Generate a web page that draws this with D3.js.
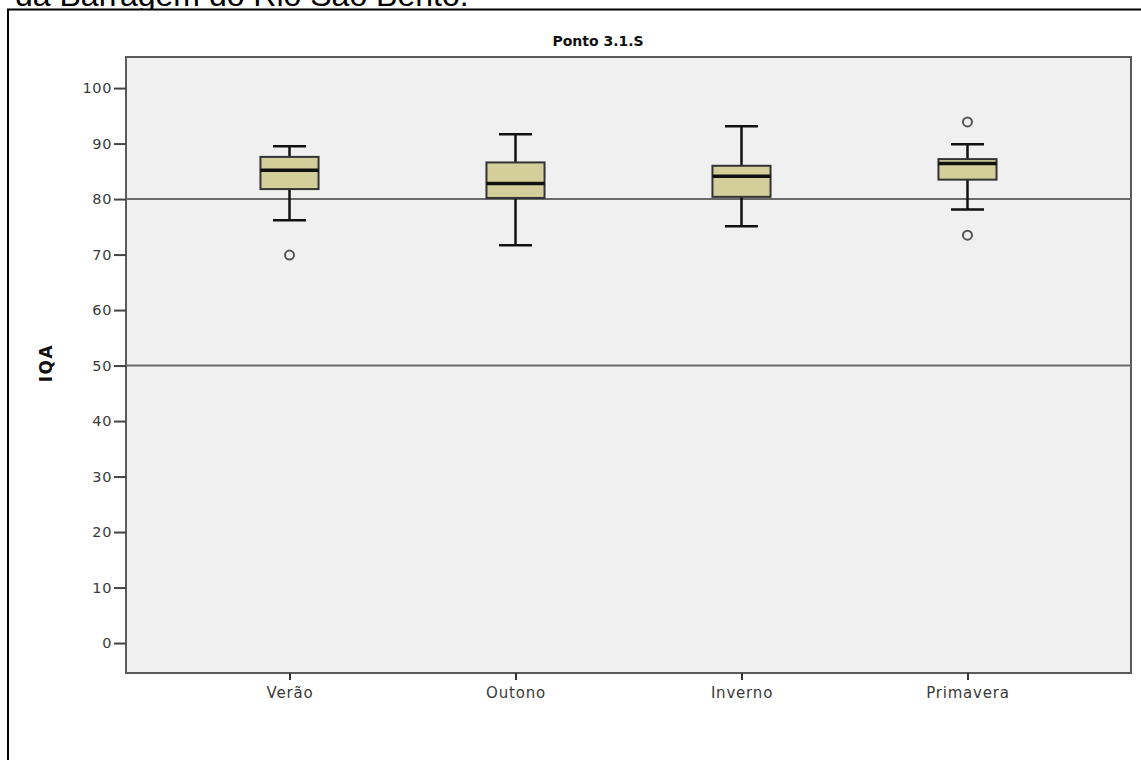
<!DOCTYPE html>
<html><head><meta charset="utf-8">
<script src="https://cdn.jsdelivr.net/npm/d3@7/dist/d3.min.js"></script>
<style>body{margin:0;background:#fff;} svg{display:block;}</style>
</head><body>
<svg id="c" width="1141" height="760"></svg>
<script>
const categories = ["Verão","Outono","Inverno","Primavera"];
const q1 =      [81.8, 80.2, 80.4, 83.5];
const median =  [85.2, 82.8, 84.1, 86.4];
const q3 =      [87.6, 86.6, 86.0, 87.2];
const whiskLo = [76.2, 71.7, 75.1, 78.1];
const whiskHi = [89.5, 91.7, 93.1, 89.9];
const outliers = [[69.9], [], [], [93.9, 73.5]];
const yTicks = [0,10,20,30,40,50,60,70,80,90,100];
const refLines = [80, 50];

const svg = d3.select("#c");
const L = 126, R = 1131, T = 57, B = 673;

// cut-off caption text and outer frame
svg.append("text").attr("x", 15).attr("y", 6)
  .attr("font-family", "Liberation Sans, Arial, sans-serif").attr("font-size", 32)
  .attr("fill", "#000").text("da Barragem do Rio São Bento.");
svg.append("rect").attr("x", 8).attr("y", 9.5).attr("width", 1160).attr("height", 800)
  .attr("fill", "#fff").attr("stroke", "#000").attr("stroke-width", 2);

const y = d3.scaleLinear().domain([-5.4, 105.6]).range([B, T]);
const x = d3.scalePoint().domain(categories).range([L, R]).padding(0.7235);
const bw = x.step() * 0.257;

svg.append("rect").attr("x", L).attr("y", T).attr("width", R - L).attr("height", B - T)
  .attr("fill", "#f0f0f0").attr("stroke", "#5a5a5a").attr("stroke-width", 2);

// reference lines
svg.selectAll(".ref").data(refLines).join("line")
  .attr("x1", L).attr("x2", R).attr("y1", d => y(d)).attr("y2", d => y(d))
  .attr("stroke", "#6a6a6a").attr("stroke-width", 2);

// axes
const font = "DejaVu Sans, Verdana, sans-serif";
const yAxis = svg.append("g").attr("transform", `translate(${L},0)`)
  .call(d3.axisLeft(y).tickValues(yTicks).tickSize(12).tickPadding(2));
yAxis.select(".domain").remove();
yAxis.selectAll(".tick line").attr("stroke", "#444").attr("stroke-width", 2);
yAxis.selectAll(".tick text").attr("font-family", font).attr("font-size", 14.5)
  .attr("letter-spacing", 0.6).attr("fill", "#3a3a3a");

const xAxis = svg.append("g").attr("transform", `translate(0,${B})`)
  .call(d3.axisBottom(x).tickSize(7).tickPadding(7));
xAxis.select(".domain").remove();
xAxis.selectAll(".tick line").attr("stroke", "#333").attr("stroke-width", 2);
xAxis.selectAll(".tick text").attr("font-family", font).attr("font-size", 15)
  .attr("letter-spacing", 0.8).attr("fill", "#3a3a3a");

// title & y label
svg.append("text").attr("x", 598).attr("y", 46).attr("text-anchor", "middle")
  .attr("font-family", font).attr("font-size", 14).attr("font-weight", "bold").attr("fill", "#111")
  .text("Ponto 3.1.S");
svg.append("text").attr("transform", "translate(52,363) rotate(-90)").attr("text-anchor", "middle")
  .attr("font-family", font).attr("font-size", 17).attr("font-weight", "bold")
  .attr("letter-spacing", 1.5).attr("fill", "#111")
  .text("IQA");

// boxes
const g = svg.append("g");
categories.forEach((c, i) => {
  const cx = x(c);
  const cap = bw * 0.5;
  g.append("line").attr("x1", cx).attr("x2", cx).attr("y1", y(q3[i])).attr("y2", y(whiskHi[i]))
    .attr("stroke", "#111").attr("stroke-width", 2.5);
  g.append("line").attr("x1", cx).attr("x2", cx).attr("y1", y(q1[i])).attr("y2", y(whiskLo[i]))
    .attr("stroke", "#111").attr("stroke-width", 2.5);
  [whiskHi[i], whiskLo[i]].forEach(v => {
    g.append("line").attr("x1", cx - cap / 2 - 2).attr("x2", cx + cap / 2 + 2)
      .attr("y1", y(v)).attr("y2", y(v)).attr("stroke", "#111").attr("stroke-width", 2.5);
  });
  g.append("rect").attr("x", cx - bw / 2).attr("y", y(q3[i])).attr("width", bw)
    .attr("height", y(q1[i]) - y(q3[i])).attr("fill", "#d4cf9a")
    .attr("stroke", "#333").attr("stroke-width", 2);
  g.append("line").attr("x1", cx - bw / 2).attr("x2", cx + bw / 2)
    .attr("y1", y(median[i])).attr("y2", y(median[i])).attr("stroke", "#111").attr("stroke-width", 3.5);
  outliers[i].forEach(v => {
    g.append("circle").attr("cx", cx).attr("cy", y(v)).attr("r", 4.5)
      .attr("fill", "none").attr("stroke", "#555").attr("stroke-width", 2);
  });
});
</script>
</body></html>
